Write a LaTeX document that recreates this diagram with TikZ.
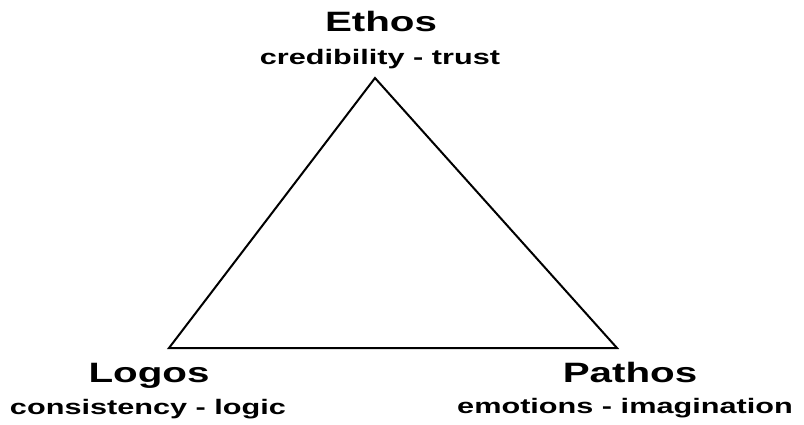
\documentclass[tikz,border=0pt]{standalone}
\usepackage{fontspec}
\usepackage{tikz}
\usetikzlibrary{positioning}
\newfontfamily\headfont[FakeStretch=1.44]{Liberation Sans}
\newfontfamily\notefont[FakeStretch=1.46]{Liberation Sans}

\begin{document}
\begin{tikzpicture}[x=1pt, y=-1pt, every node/.style={inner sep=0pt, anchor=base}]
\tikzstyle{corner}=[font=\headfont\bfseries\fontsize{28}{32}\selectfont]
\tikzstyle{note}=[font=\notefont\bfseries\fontsize{21}{25}\selectfont]
\useasboundingbox (0,0) rectangle (804,425);
\coordinate (ethos) at (375,78);
\coordinate (logos) at (169,348);
\coordinate (pathos) at (617,348);
\draw[line width=2pt, line join=miter] (ethos) -- (logos) -- (pathos) -- cycle;
\node[corner] (ethostitle) at (381,32) {Ethos};
\node[note] (ethosnote) at (380,65) {credibility - trust};
\node[corner] (logostitle) at (149,382) {Logos};
\node[note] (logosnote) at (148,414) {consistency - logic};
\node[corner] (pathostitle) at (630,382) {Pathos};
\node[note] (pathosnote) at (625,413) {emotions - imagination};
\end{tikzpicture}
\end{document}
